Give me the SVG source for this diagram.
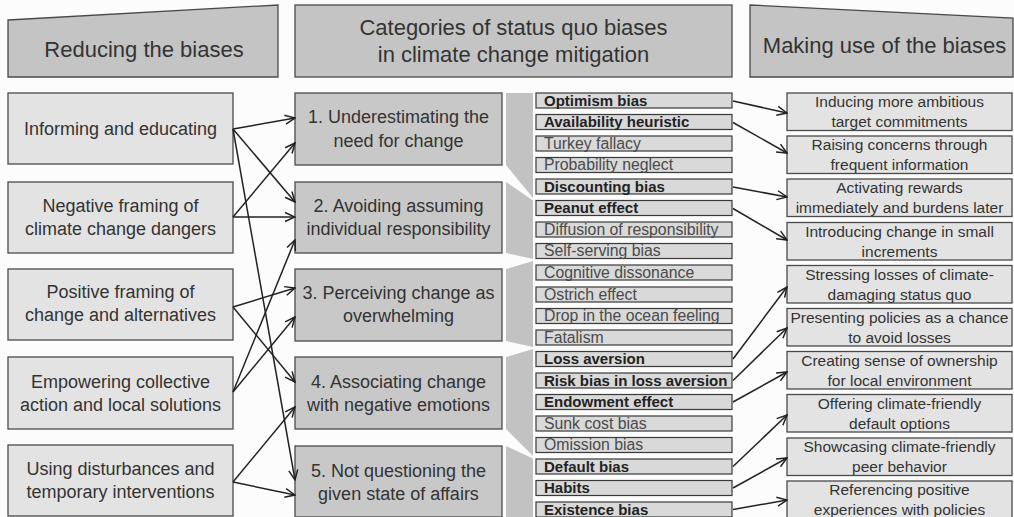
<svg xmlns="http://www.w3.org/2000/svg" width="1014" height="517" viewBox="0 0 1014 517">
<defs>
<style>
text{font-family:"Liberation Sans",Arial,sans-serif;fill:#333}
.hdr{fill:#c4c4c4;stroke:#4a4a4a;stroke-width:1.3}
.ht{font-size:22px;text-anchor:middle}
.lb{fill:#e3e3e3;stroke:#4a4a4a;stroke-width:1.3}
.mb{fill:#c8c8c8;stroke:#4a4a4a;stroke-width:1.3}
.bt{font-size:18px;text-anchor:middle}
.row{fill:#d9d9d9;stroke:#3a3a3a;stroke-width:1.2}
.rt{font-size:15.8px;fill:#4a4a4a}
.rtb{font-size:15px;font-weight:bold;fill:#222}
.rb{fill:#e3e3e3;stroke:#4a4a4a;stroke-width:1.3}
.st{font-size:15.5px;text-anchor:middle}
.br{fill:#c2c2c2}
.cn{stroke:#222;stroke-width:1.5;fill:none;marker-end:url(#ah)}
</style>
<marker id="ah" markerUnits="userSpaceOnUse" markerWidth="12" markerHeight="12" viewBox="0 0 12 12" refX="11" refY="6" orient="auto">
<path d="M1,1.5 L11,6 L1,10.5" fill="none" stroke="#222" stroke-width="1.5"/>
</marker>
</defs>
<rect width="1014" height="517" fill="#fcfcfc"/>

<g id="header-reducing">
<polygon class="hdr" points="8,20 278,5 278,77 8,77"/>
<text class="ht" x="144" y="57">Reducing the biases</text>
</g>
<g id="header-categories">
<rect class="hdr" x="295" y="5" width="437" height="72"/>
<text class="ht" x="513.5" y="35">Categories of status quo biases</text>
<text class="ht" x="513.5" y="62">in climate change mitigation</text>
</g>
<g id="header-making-use">
<polygon class="hdr" points="750,5 1013,18 1013,77 750,77"/>
<text class="ht" x="884.5" y="53">Making use of the biases</text>
</g>

<g id="left-1"><rect class="lb" x="8" y="93" width="225" height="71"/><text class="bt" x="120.5" y="135">Informing and educating</text></g>
<g id="left-2"><rect class="lb" x="8" y="182" width="225" height="71"/><text class="bt" x="120.5" y="212">Negative framing of</text><text class="bt" x="120.5" y="235">climate change dangers</text></g>
<g id="left-3"><rect class="lb" x="8" y="269" width="225" height="71"/><text class="bt" x="120.5" y="298">Positive framing of</text><text class="bt" x="120.5" y="321">change and alternatives</text></g>
<g id="left-4"><rect class="lb" x="8" y="357" width="225" height="72"/><text class="bt" x="120.5" y="388">Empowering collective</text><text class="bt" x="120.5" y="411">action and local solutions</text></g>
<g id="left-5"><rect class="lb" x="8" y="445" width="225" height="71"/><text class="bt" x="120.5" y="475">Using disturbances and</text><text class="bt" x="120.5" y="498">temporary interventions</text></g>

<g id="cat-1"><rect class="mb" x="295" y="93" width="207" height="72"/><text class="bt" x="398.5" y="123">1. Underestimating the</text><text class="bt" x="398.5" y="147">need for change</text></g>
<g id="cat-2"><rect class="mb" x="295" y="182" width="207" height="71"/><text class="bt" x="398.5" y="212">2. Avoiding assuming</text><text class="bt" x="398.5" y="235">individual responsibility</text></g>
<g id="cat-3"><rect class="mb" x="295" y="269" width="207" height="72"/><text class="bt" x="398.5" y="299">3. Perceiving change as</text><text class="bt" x="398.5" y="322">overwhelming</text></g>
<g id="cat-4"><rect class="mb" x="295" y="357" width="207" height="72"/><text class="bt" x="398.5" y="388">4. Associating change</text><text class="bt" x="398.5" y="411">with negative emotions</text></g>
<g id="cat-5"><rect class="mb" x="295" y="446" width="207" height="71"/><text class="bt" x="398.5" y="477">5. Not questioning the</text><text class="bt" x="398.5" y="500">given state of affairs</text></g>

<g id="brackets">
<polygon class="br" points="506,93 533,93 533,198 506,165"/>
<polygon class="br" points="506,182 533,200.5 533,259 506,253"/>
<polygon class="br" points="506,269 533,261 533,347 506,341"/>
<polygon class="br" points="506,357 533,349 533,456 506,429"/>
<polygon class="br" points="506,446 533,458.5 533,517 506,517"/>
</g>

<g id="biases">
<g id="b1"><rect class="row" x="536" y="93" width="196" height="15"/><text class="rtb" x="544" y="105.5">Optimism bias</text></g>
<g id="b2"><rect class="row" x="536" y="114.5" width="196" height="15"/><text class="rtb" x="544" y="127">Availability heuristic</text></g>
<g id="b3"><rect class="row" x="536" y="136" width="196" height="15"/><text class="rt" x="544" y="148.5">Turkey fallacy</text></g>
<g id="b4"><rect class="row" x="536" y="157.5" width="196" height="15"/><text class="rt" x="544" y="170">Probability neglect</text></g>
<g id="b5"><rect class="row" x="536" y="179" width="196" height="15"/><text class="rtb" x="544" y="191.5">Discounting bias</text></g>
<g id="b6"><rect class="row" x="536" y="200.5" width="196" height="15"/><text class="rtb" x="544" y="213">Peanut effect</text></g>
<g id="b7"><rect class="row" x="536" y="222" width="196" height="15"/><text class="rt" x="544" y="234.5">Diffusion of responsibility</text></g>
<g id="b8"><rect class="row" x="536" y="243.5" width="196" height="15"/><text class="rt" x="544" y="256">Self-serving bias</text></g>
<g id="b9"><rect class="row" x="536" y="265" width="196" height="15"/><text class="rt" x="544" y="277.5">Cognitive dissonance</text></g>
<g id="b10"><rect class="row" x="536" y="287" width="196" height="15"/><text class="rt" x="544" y="299.5">Ostrich effect</text></g>
<g id="b11"><rect class="row" x="536" y="308.5" width="196" height="15"/><text class="rt" x="544" y="321">Drop in the ocean feeling</text></g>
<g id="b12"><rect class="row" x="536" y="330" width="196" height="15"/><text class="rt" x="544" y="342.5">Fatalism</text></g>
<g id="b13"><rect class="row" x="536" y="351.5" width="196" height="15"/><text class="rtb" x="544" y="364">Loss aversion</text></g>
<g id="b14"><rect class="row" x="536" y="373" width="196" height="15"/><text class="rtb" x="544" y="385.5">Risk bias in loss aversion</text></g>
<g id="b15"><rect class="row" x="536" y="394.5" width="196" height="15"/><text class="rtb" x="544" y="407">Endowment effect</text></g>
<g id="b16"><rect class="row" x="536" y="416" width="196" height="15"/><text class="rt" x="544" y="428.5">Sunk cost bias</text></g>
<g id="b17"><rect class="row" x="536" y="437.5" width="196" height="15"/><text class="rt" x="544" y="450">Omission bias</text></g>
<g id="b18"><rect class="row" x="536" y="459" width="196" height="15"/><text class="rtb" x="544" y="471.5">Default bias</text></g>
<g id="b19"><rect class="row" x="536" y="480.5" width="196" height="15"/><text class="rtb" x="544" y="493">Habits</text></g>
<g id="b20"><rect class="row" x="536" y="502" width="196" height="15"/><text class="rtb" x="544" y="514.5">Existence bias</text></g>
</g>

<g id="right-1"><rect class="rb" x="787" y="93" width="225" height="37.5"/><text class="st" x="899.5" y="107">Inducing more ambitious</text><text class="st" x="899.5" y="127">target commitments</text></g>
<g id="right-2"><rect class="rb" x="787" y="136" width="225" height="37.5"/><text class="st" x="899.5" y="150">Raising concerns through</text><text class="st" x="899.5" y="170">frequent information</text></g>
<g id="right-3"><rect class="rb" x="787" y="179" width="225" height="37.5"/><text class="st" x="899.5" y="193">Activating rewards</text><text class="st" x="899.5" y="213">immediately and burdens later</text></g>
<g id="right-4"><rect class="rb" x="787" y="222.5" width="225" height="37.5"/><text class="st" x="899.5" y="236.5">Introducing change in small</text><text class="st" x="899.5" y="256.5">increments</text></g>
<g id="right-5"><rect class="rb" x="787" y="265.5" width="225" height="37.5"/><text class="st" x="899.5" y="279.5">Stressing losses of climate-</text><text class="st" x="899.5" y="299.5">damaging status quo</text></g>
<g id="right-6"><rect class="rb" x="787" y="308.5" width="225" height="37.5"/><text class="st" x="899.5" y="322.5">Presenting policies as a chance</text><text class="st" x="899.5" y="342.5">to avoid losses</text></g>
<g id="right-7"><rect class="rb" x="787" y="351.5" width="225" height="37.5"/><text class="st" x="899.5" y="365.5">Creating sense of ownership</text><text class="st" x="899.5" y="385.5">for local environment</text></g>
<g id="right-8"><rect class="rb" x="787" y="394.5" width="225" height="37.5"/><text class="st" x="899.5" y="408.5">Offering climate-friendly</text><text class="st" x="899.5" y="428.5">default options</text></g>
<g id="right-9"><rect class="rb" x="787" y="438" width="225" height="37.5"/><text class="st" x="899.5" y="452">Showcasing climate-friendly</text><text class="st" x="899.5" y="472">peer behavior</text></g>
<g id="right-10"><rect class="rb" x="787" y="481" width="225" height="37.5"/><text class="st" x="899.5" y="495">Referencing positive</text><text class="st" x="899.5" y="515">experiences with policies</text></g>

<g id="connectors">
<line class="cn" x1="233" y1="129" x2="295" y2="118"/>
<line class="cn" x1="233" y1="129" x2="295" y2="202"/>
<line class="cn" x1="233" y1="129" x2="295" y2="480"/>
<line class="cn" x1="233" y1="217" x2="295" y2="143"/>
<line class="cn" x1="233" y1="217" x2="295" y2="217"/>
<line class="cn" x1="233" y1="307" x2="295" y2="288"/>
<line class="cn" x1="233" y1="307" x2="295" y2="382"/>
<line class="cn" x1="233" y1="392" x2="295" y2="240"/>
<line class="cn" x1="233" y1="392" x2="295" y2="317"/>
<line class="cn" x1="233" y1="482" x2="295" y2="407"/>
<line class="cn" x1="233" y1="482" x2="295" y2="495"/>
<line class="cn" x1="733" y1="101" x2="787" y2="113"/>
<line class="cn" x1="733" y1="122.5" x2="787" y2="153"/>
<line class="cn" x1="733" y1="187" x2="787" y2="197"/>
<line class="cn" x1="733" y1="208.5" x2="787" y2="240"/>
<line class="cn" x1="733" y1="359" x2="787" y2="287"/>
<line class="cn" x1="733" y1="380.5" x2="787" y2="328"/>
<line class="cn" x1="733" y1="402" x2="787" y2="372"/>
<line class="cn" x1="733" y1="466.5" x2="787" y2="415"/>
<line class="cn" x1="733" y1="488" x2="787" y2="458"/>
<line class="cn" x1="733" y1="509.5" x2="787" y2="500"/>
</g>
</svg>
